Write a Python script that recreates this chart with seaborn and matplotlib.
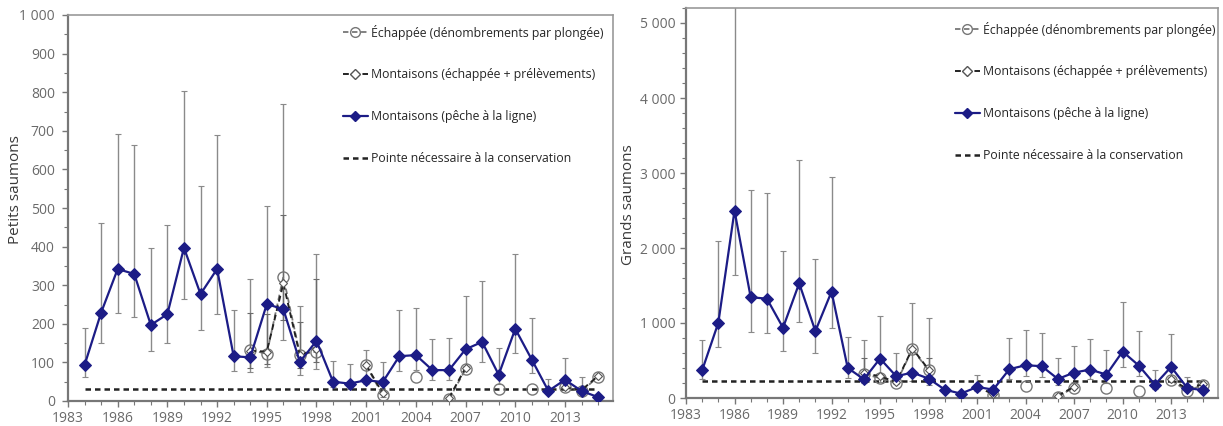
import numpy as np
import pandas as pd
import matplotlib
matplotlib.use("Agg")
import matplotlib.pyplot as plt
import seaborn as sns
from matplotlib.ticker import MultipleLocator, FuncFormatter
from matplotlib.lines import Line2D

years = list(range(1984, 2016))
nan = np.nan

# ---- Petits saumons (left) ----
small_angling = [93, 229, 342, 329, 197, 225, 397, 277, 342, 116, 113, 251, 238, 101, 156, 50,
                 45, 54, 49, 116, 119, 80, 80, 134, 153, 68, 187, 107, 26, 55, 26, 10]
small_upper = [190, 462, 693, 663, 397, 456, 802, 558, 690, 236, 315, 505, 770, 245, 381, 103,
               95, 133, 100, 236, 242, 160, 163, 271, 310, 138, 380, 216, 58, 112, 62, nan]
small_lower = [62, 150, 228, 218, 130, 150, 263, 183, 226, 77, 75, 87, 158, 67, 82, 35,
               30, 45, 10, 78, 80, 55, 55, 90, 102, 45, 125, 72, 18, 37, 18, nan]
small_escap = [nan]*10 + [133, 122, 322, 120, 128, nan, nan, 92, 15, nan, 62, nan, 5, 82,
                          nan, 32, nan, 32, nan, 35, 25, 63]
small_runs = [nan]*10 + [130, 128, 305, 118, 135, nan, nan, 93, 20, nan, nan, nan, 8, 86,
                         nan, nan, nan, nan, nan, 36, 28, 65]
small_runs_upper = [nan]*10 + [228, 225, 482, 205, 315] + [nan]*17
small_runs_lower = [nan]*10 + [85, 95, 210, 85, 100] + [nan]*17
small_cons = 32

# ---- Grands saumons (right) ----
large_angling = [370, 1004, 2498, 1343, 1325, 937, 1530, 892, 1418, 401, 250, 526, 290, 339, 259, 112,
                 58, 147, 112, 384, 437, 424, 254, 339, 379, 312, 620, 433, 178, 415, 134, 103]
large_upper = [780, 2100, 5400, 2780, 2740, 1960, 3180, 1860, 2950, 820, 780, 1100, 600, 1270, 1070, nan,
               nan, 310, nan, 800, 910, 870, 540, 690, 790, 640, 1280, 900, 370, 860, 280, nan]
large_lower = [260, 680, 1640, 880, 870, 630, 1010, 600, 940, 270, 200, 220, 190, 230, 170, nan,
               nan, 100, nan, 260, 290, 280, 170, 220, 260, 205, 410, 290, 120, 280, 90, nan]
large_escap = [nan]*10 + [320, 265, 200, 650, 370, nan, nan, nan, 40, nan, 160, nan, 20, 140,
                          nan, 140, nan, 90, nan, 240, 90, 180]
large_runs = [nan]*10 + [330, 290, 210, 660, 380, nan, nan, 150, 50, nan, nan, nan, 30, 150,
                         nan, nan, nan, nan, nan, 250, 120, 190]
large_runs_upper = [nan]*10 + [530, nan, nan, nan, 530] + [nan]*17
large_runs_lower = [nan]*10 + [220, nan, nan, nan, 220] + [nan]*17
large_cons = 225

xtick_labels = [1983, 1986, 1989, 1992, 1995, 1998, 2001, 2004, 2007, 2010, 2013]
legend_labels = ["Échappée (dénombrements par plongée)",
                 "Montaisons (échappée + prélèvements)",
                 "Montaisons (pêche à la ligne)",
                 "Pointe nécessaire à la conservation"]

sns.set_style("white")
plt.rcParams['font.family'] = ['Open Sans', 'DejaVu Sans']

NAVY = "#1c1c86"
GRAY_ERR = "#8a8a8a"
TICK_COL = "#6a6a6a"

fig = plt.figure(figsize=(12.23, 4.26), dpi=100)
axL = fig.add_axes([68/1223, 1-401/426, 545/1223, 386/426])
axR = fig.add_axes([686/1223, 1-398/426, 532/1223, 390/426])


def fmt_thousands(v, pos):
    v = int(round(v))
    return f"{v:,}".replace(",", " ")


def draw(ax, angling, up, lo, escap, runs, rup, rlo, cons, ylim, major, minor, ylabel,
         leg_anchor, ylabel_xy, ypad):
    yr = np.array(years, dtype=float)
    ang = np.array(angling, dtype=float)
    up = np.array(up, dtype=float)
    lo = np.array(lo, dtype=float)
    m = ~np.isnan(up)
    ax.errorbar(yr[m], ang[m], yerr=[ang[m]-lo[m], up[m]-ang[m]], fmt='none',
                ecolor=GRAY_ERR, elinewidth=1.0, capsize=2, capthick=0.8, zorder=2)
    r = np.array(runs, dtype=float)
    ru = np.array(rup, dtype=float)
    rl = np.array(rlo, dtype=float)
    m2 = ~np.isnan(ru)
    ax.errorbar(yr[m2], r[m2], yerr=[r[m2]-rl[m2], ru[m2]-r[m2]], fmt='none',
                ecolor="#6a6a6a", elinewidth=1.0, capsize=2, capthick=0.8, zorder=2)
    # conservation line
    df_c = pd.DataFrame({"year": years, "v": [cons]*len(years)})
    sns.lineplot(data=df_c, x="year", y="v", ax=ax, color="#222222", lw=1.8,
                 linestyle=(0, (2.2, 1.6)), zorder=3)
    # escapement (dive counts)
    ax.plot(yr, np.array(escap, dtype=float), color="#777777", lw=1.3, ls=(0, (3, 2)),
            marker='o', ms=8, mfc='none', mec="#777777", mew=1.0, zorder=4)
    # runs (escapement + removals)
    ax.plot(yr, r, color="#222222", lw=1.4, ls=(0, (3, 2)),
            marker='D', ms=4, mfc='white', mec="#555555", mew=0.8, zorder=5)
    # angling runs
    df_a = pd.DataFrame({"year": years, "v": angling})
    sns.lineplot(data=df_a, x="year", y="v", ax=ax, color=NAVY, lw=1.6,
                 marker='D', markersize=6.5, markeredgecolor=NAVY, markerfacecolor=NAVY, zorder=6)

    ax.set_xlim(1983, 2015.9)
    ax.set_ylim(*ylim)
    ax.set_xticks(xtick_labels)
    ax.set_xticklabels([str(v) for v in xtick_labels])
    ax.xaxis.set_minor_locator(MultipleLocator(1))
    ax.yaxis.set_major_locator(MultipleLocator(major))
    ax.yaxis.set_minor_locator(MultipleLocator(minor))
    ax.yaxis.set_major_formatter(FuncFormatter(fmt_thousands))
    ax.tick_params(axis='both', which='both', direction='out', colors="#777777",
                   labelcolor=TICK_COL, labelsize=10, bottom=True, left=True)
    ax.tick_params(which='major', length=4, width=1)
    ax.tick_params(axis='y', which='major', pad=ypad)
    ax.tick_params(which='minor', length=3, width=0.8)
    ax.set_xlabel("")
    ax.set_ylabel(ylabel, fontsize=11, color="#3a3a3a")
    ax.yaxis.set_label_coords(*ylabel_xy)
    for s in ax.spines.values():
        s.set_color("#999999")
        s.set_linewidth(1.2)
    ax.spines['left'].set_color("#777777")
    ax.spines['bottom'].set_color("#777777")
    ax.spines['left'].set_linewidth(1.6)
    ax.spines['bottom'].set_linewidth(1.6)

    handles = [
        Line2D([], [], color="#777777", lw=1.3, ls=(0, (3, 2)), marker='o', ms=7,
               mfc='none', mec="#777777"),
        Line2D([], [], color="#222222", lw=1.4, ls=(0, (3, 2)), marker='D', ms=5,
               mfc='white', mec="#555555"),
        Line2D([], [], color=NAVY, lw=1.6, marker='D', ms=5, mfc=NAVY, mec=NAVY),
        Line2D([], [], color="#222222", lw=1.8, ls=(0, (2.2, 1.6))),
    ]
    ax.legend(handles, legend_labels, loc='upper left', bbox_to_anchor=leg_anchor,
              frameon=False, fontsize=8.8, labelspacing=2.35, handlelength=2.0,
              handletextpad=0.3, borderpad=0, borderaxespad=0)


draw(axL, small_angling, small_upper, small_lower, small_escap, small_runs,
     small_runs_upper, small_runs_lower, small_cons, (0, 1000), 100, 50,
     "Petits saumons", (0.505, 0.975), (-0.083, 0.547), 5.5)
draw(axR, large_angling, large_upper, large_lower, large_escap, large_runs,
     large_runs_upper, large_runs_lower, large_cons, (0, 5200), 1000, 200,
     "Grands saumons", (0.506, 0.965), (-0.094, 0.495), 3.5)

fig.savefig("out.png", dpi=100)
